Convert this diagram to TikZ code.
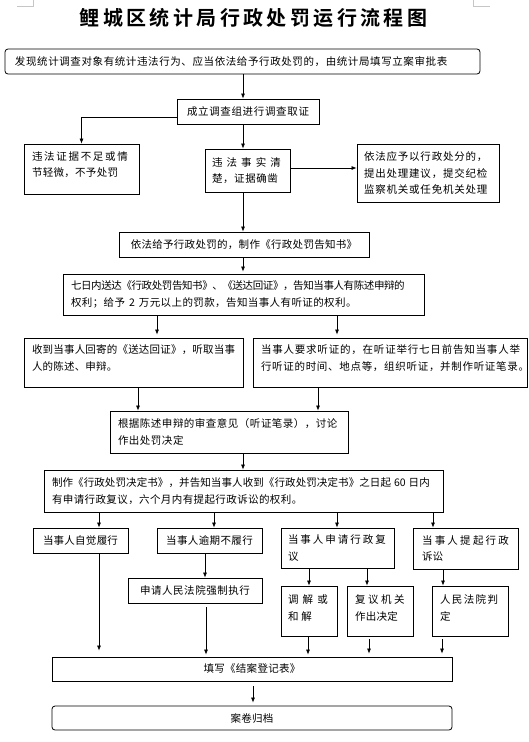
\documentclass[tikz,border=0pt]{standalone}
\usepackage{fontspec}
\setmainfont{Noto Sans CJK SC}
\newfontfamily\titlefont{Noto Sans CJK SC}[UprightFont=* Bold]
\usetikzlibrary{arrows.meta}
\makeatletter
\newcommand\lsp[2]{\def\lsp@k{#1}\lsp@a#2\relax}
\def\lsp@a#1#2{#1\ifx\relax#2\else\kern\lsp@k\relax\expandafter\lsp@a\fi#2}
\makeatother
\newcommand\dpt[1]{\rule[-#1]{0pt}{#1}}
\tikzset{
  box/.style={draw, line width=0.8pt, inner ysep=0pt, font=\fontsize{10.5}{16.5}\selectfont},
  lbox/.style={box, align=left},
  cbox/.style={box, align=center, inner xsep=0pt},
  rbox/.style={box, rounded corners=3pt},
  arr/.style={-{Latex[length=5pt,width=4pt]}, line width=0.7pt},
  mark/.style={draw=gray!45, line width=0.6pt}
}
\begin{document}
\begin{tikzpicture}[x=1pt,y=-1pt]
\useasboundingbox (0,0) rectangle (528,742);
\draw[gray!45, line width=0.6pt] (17,6) -- (33,6) -- (33,0);
\draw[gray!45, line width=0.6pt] (490,6) -- (473,6) -- (473,0);

\node[font=\titlefont\fontsize{20}{24}\selectfont, inner sep=0pt] (title) at (253.5,18) {\lsp{3.4pt}{鲤城区统计局行政处罚运行流程图}};

\node[rbox, lbox, minimum width=475pt, minimum height=25pt, text width=455pt, inner xsep=10pt] (b1) at (242.5,61.5)
  {\lsp{0.6pt}{发现统计调查对象有统计违法行为、应当依法给予行政处罚的，由统计局填写立案审批表}};

\node[cbox, minimum width=142pt, minimum height=25pt] (b2) at (248,111.5)
  {\lsp{0.65pt}{成立调查组进行调查取证}};

\node[lbox, minimum width=115pt, minimum height=50pt, text width=99pt, inner xsep=8pt] (b3) at (81.5,169)
  {\lsp{1.7pt}{违法证据不足或情}\\\lsp{0.3pt}{节轻微，不予处罚}\dpt{9.5pt}};

\node[lbox, minimum width=85pt, minimum height=43pt, text width=71pt, inner xsep=7pt] (b4) at (247.5,170.5)
  {\lsp{4.1pt}{违法事实清}\\\lsp{0.6pt}{楚，证据确凿}};

\node[lbox, minimum width=142pt, minimum height=58pt, text width=128pt, inner xsep=7pt] (b5) at (428,173)
  {\lsp{0.8pt}{依法应予以行政处分的，}\\\lsp{0.8pt}{提出处理建议，提交纪检}\\\lsp{0.8pt}{监察机关或任免机关处理}};

\node[cbox, minimum width=250pt, minimum height=25pt] (b6) at (244,244.5)
  {\lsp{0.3pt}{依法给予行政处罚的，制作《行政处罚告知书》}};

\node[lbox, minimum width=361pt, minimum height=41pt, text width=345pt, inner xsep=8pt] (b7) at (243.5,294.5)
  {\lsp{-0.4pt}{七日内送达《行政处罚告知书》、《送达回证》，告知当事人有陈述申辩的}\\\lsp{0.4pt}{权利；给予}\kern4pt 2\kern4pt\lsp{0.4pt}{万元以上的罚款，告知当事人有听证的权利。}};

\node[lbox, minimum width=219pt, minimum height=49pt, text width=203pt, inner xsep=8pt] (b8) at (133.5,362.5)
  {\lsp{0.2pt}{收到当事人回寄的《送达回证》，听取当事}\\\lsp{0.2pt}{人的陈述、申辩。}\dpt{9.5pt}};

\node[lbox, minimum width=274pt, minimum height=49pt, text width=258pt, inner xsep=8pt] (b9) at (390,362.5)
  {\lsp{0.8pt}{当事人要求听证的，在听证举行七日前告知当事人举}\\\lsp{0.7pt}{行听证的时间、地点等，组织听证，并制作听证笔录。}\dpt{9.5pt}};

\node[lbox, minimum width=238pt, minimum height=42pt, text width=222pt, inner xsep=8pt] (b10) at (229,432)
  {\lsp{0.5pt}{根据陈述申辩的审查意见（听证笔录），讨论}\\\lsp{0.5pt}{作出处罚决定}};

\node[lbox, minimum width=399pt, minimum height=42pt, text width=383pt, inner xsep=8pt] (b11) at (243.5,491)
  {\lsp{0.1pt}{制作《行政处罚决定书》，并告知当事人收到《行政处罚决定书》之日起}\kern3pt 60\kern3pt\lsp{0.1pt}{日内}\\\lsp{0.4pt}{有申请行政复议，六个月内有提起行政诉讼的权利。}};

\node[cbox, minimum width=95pt, minimum height=25pt] (b12) at (80.5,540.5)
  {\lsp{0.25pt}{当事人自觉履行}};
\node[cbox, minimum width=105pt, minimum height=25pt] (b13) at (209.5,540.5)
  {\lsp{0.4pt}{当事人逾期不履行}};
\node[lbox, minimum width=113pt, minimum height=40pt, text width=99pt, inner xsep=7pt] (b14) at (337.5,548)
  {\lsp{2pt}{当事人申请行政复}\\议};
\node[lbox, minimum width=105pt, minimum height=41pt, text width=87pt, inner xsep=9pt] (b15) at (465.5,548.5)
  {\lsp{2.25pt}{当事人提起行政}\\诉讼};

\node[cbox, minimum width=134pt, minimum height=25pt] (b16) at (195,590.5)
  {\lsp{0.55pt}{申请人民法院强制执行}};
\node[lbox, minimum width=56pt, minimum height=50pt, text width=42pt, inner xsep=7pt] (b17) at (309,611)
  {\lsp{4.25pt}{调解或}\\\lsp{3pt}{和解}\dpt{6.5pt}};
\node[lbox, minimum width=66pt, minimum height=50pt, text width=50pt, inner xsep=8pt] (b18) at (380,611)
  {\lsp{2.5pt}{复议机关}\\\lsp{0.3pt}{作出决定}\dpt{6.5pt}};
\node[lbox, minimum width=76pt, minimum height=50pt, text width=60pt, inner xsep=8pt] (b19) at (470,611)
  {\lsp{1.4pt}{人民法院判}\\定\dpt{6.5pt}};

\node[cbox, minimum width=400pt, minimum height=24pt] (b20) at (252,669)
  {\lsp{0.3pt}{填写《结案登记表》}};
\node[cbox, rbox, minimum width=400pt, minimum height=24pt] (b21) at (252,718)
  {\lsp{0.3pt}{案卷归档}};

% connectors
\draw[arr] (b1.south -| 243,0) -- (b2.north -| 243,0);
\draw[arr] (b2.west |- 0,117) -| (b3.north);
\draw[arr] (b2.south -| 243,0) -- (b4.north -| 243,0);
\draw[arr] (b4.east |- 0,168) -- (b5.west |- 0,168);
\draw[arr] (b4.south -| 243,0) -- (b6.north -| 243,0);
\draw[arr, shorten >=2pt] (b6.south -| 243,0) -- (b7.north -| 243,0);
\draw[arr, shorten >=3pt] (b7.south -| 157,0) -- (b8.north -| 157,0);
\draw[arr, shorten >=3pt] (b7.south -| 337,0) -- (b9.north -| 337,0);
\draw[arr] (b8.south -| 138,0) -- (b10.north -| 138,0);
\draw[arr] (b9.south -| 318,0) -- (b10.north -| 318,0);
\draw[arr] (b10.south -| 243,0) -- (b11.north -| 243,0);
\draw[arr] (b11.south -| 99,0) -- (b12.north -| 99,0);
\draw[arr] (b11.south -| 214,0) -- (b13.north -| 214,0);
\draw[arr] (b11.south -| 337,0) -- (b14.north -| 337,0);
\draw[arr] (b11.south -| 433,0) -- (b15.north -| 433,0);
\draw[arr] (b13.south -| 205,0) -- (b16.north -| 205,0);
\draw[arr] (b14.south -| 309,0) -- (b17.north -| 309,0);
\draw[arr] (b14.south -| 367,0) -- (b18.north -| 367,0);
\draw[arr] (b15.south -| 443,0) -- (b19.north -| 443,0);
\draw[arr, shorten >=6pt] (b12.south -| 99,0) -- (b20.north -| 99,0);
\draw[arr, shorten <=4pt, shorten >=2pt] (b16.south -| 206,0) -- (b20.north -| 206,0);
\draw[arr, shorten >=2pt] (b17.south -| 308,0) -- (b20.north -| 308,0);
\draw[arr, shorten <=3pt, shorten >=3pt] (b18.south -| 369,0) -- (b20.north -| 369,0);
\draw[arr, shorten <=3pt, shorten >=3pt] (b19.south -| 442,0) -- (b20.north -| 442,0);
\draw[arr, shorten <=5pt, shorten >=3pt] (b20.south -| 253,0) -- (b21.north -| 253,0);
\end{tikzpicture}
\end{document}
